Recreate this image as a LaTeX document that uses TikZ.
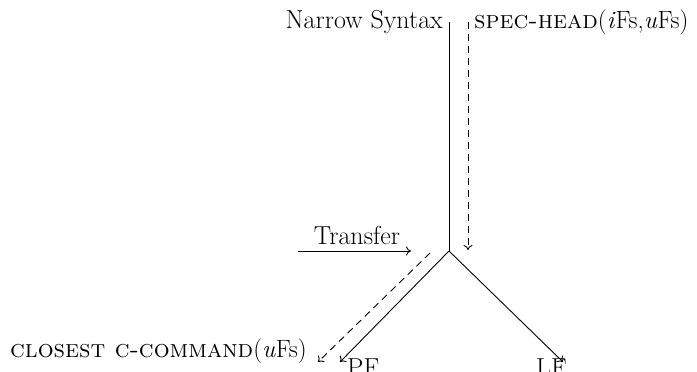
\documentclass[tikz,border=0pt]{standalone}
\usetikzlibrary{arrows.meta}
\begin{document}
\begin{tikzpicture}[x=1pt,y=-1pt,
  lbl/.style={inner sep=0pt,font=\fontsize{26}{30}\selectfont},
  sclbl/.style={inner sep=0pt,font=\fontsize{25}{29}\selectfont},
  conn/.style={line width=0.9pt,-{To[length=5pt,width=9pt]}},
  dconn/.style={conn,dash pattern=on 7pt off 5pt}]
\useasboundingbox (0,0) rectangle (697,372);
\coordinate (J) at (449,251);
\coordinate (T) at (449,22);
\coordinate (DT) at (468,22);
\coordinate (DB) at (468,250);
\coordinate (PFtip) at (340,362);
\coordinate (LFtip) at (563,362);
\coordinate (DLs) at (430,253);
\coordinate (DLe) at (318,362);
\coordinate (TRs) at (298,251);
\coordinate (TRe) at (411,251);
\node[lbl,anchor=base east] (ns) at (443,28) {Narrow Syntax};
\node[sclbl,anchor=base west] (sh) at (474,28) {\textsc{spec-head}(\textit{i}Fs,\textit{u}Fs)};
\node[sclbl,anchor=base west] (cc) at (10,357) {\textsc{closest c-command}(\textit{u}Fs)};
\node[lbl,anchor=base] (tr) at (357,244) {Transfer};
\node[lbl,anchor=base west] (pf) at (347,376) {PF};
\node[lbl,anchor=base west] (lf) at (536,376) {LF};
\draw[line width=0.9pt] (T) -- (J);
\draw[conn] (J) -- (PFtip);
\draw[conn] (J) -- (LFtip);
\draw[dconn] (DT) -- (DB);
\draw[dconn] (DLs) -- (DLe);
\draw[conn] (TRs) -- (TRe);
\end{tikzpicture}
\end{document}
